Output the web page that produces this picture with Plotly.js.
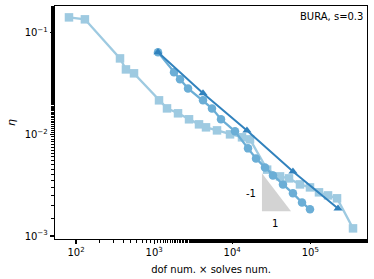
<!DOCTYPE html>
<html><head><meta charset="utf-8">
<script src="https://cdn.plot.ly/plotly-3.0.1.min.js"></script>
<style>html,body{margin:0;padding:0;background:#fff}#c{width:374px;height:279px}</style>
</head><body><div id="c"></div>
<script>
const sqX = [81.3,130,366,436,553,1156,1463,2024,2800,3758,4620,6390,9380,13350,16900,28000,40930,53360,73810,99100,129200,168600,219900,352300];
const sqY = [0.1413,0.1352,0.0558,0.0435,0.0398,0.0216,0.0180,0.0161,0.01406,0.01254,0.01172,0.01094,0.0100,0.00935,0.00893,0.00450,0.00386,0.00369,0.00322,0.00301,0.00269,0.00251,0.00235,0.00119];
const ciX = [1122,1799,2147,2719,4227,5508,7190,10860,15930,20180,26300,33270,44690,59980,78300,99100];
const ciY = [0.0640,0.0408,0.0348,0.0283,0.0216,0.0180,0.01406,0.01070,0.00728,0.00580,0.00473,0.00395,0.00322,0.00263,0.00214,0.00183];
const trX = [1122,4227,15450,59980,226500];
const trY = [0.0640,0.0253,0.0109,0.00432,0.00187];
const slopeX = [24040,24040,56600];
const slopeY = [0.00414,0.00175,0.00175];
const xTicks = [100,1000,10000,100000];
const xTickText = ['10<sup>2</sup>','10<sup>3</sup>','10<sup>4</sup>','10<sup>5</sup>'];
const yTicks = [0.001,0.01,0.1];
const yTickText = ['10<sup>−3</sup>','10<sup>−2</sup>','10<sup>−1</sup>'];

const traces = [
  {x:slopeX, y:slopeY, mode:'lines', fill:'toself', fillcolor:'#d3d3d3', line:{width:0,color:'#d3d3d3'}, hoverinfo:'skip'},
  {x:sqX, y:sqY, mode:'lines+markers', line:{color:'#9ecae1',width:2.3}, marker:{symbol:'square',size:8.5,color:'#9ecae1'}},
  {x:ciX, y:ciY, mode:'lines+markers', line:{color:'#6baed6',width:2.3}, marker:{symbol:'circle',size:8.5,color:'#6baed6'}},
  {x:trX, y:trY, mode:'lines+markers', line:{color:'#3182bd',width:2}, marker:{symbol:'triangle-up',size:8,color:'#3182bd'}}
];
const axBase = {type:'log', showgrid:false, zeroline:false, showline:true, linecolor:'black', linewidth:1.3, mirror:true,
  ticks:'outside', ticklen:4, tickwidth:1.2, tickcolor:'black',
  minor:{ticks:'outside', ticklen:2.5, tickwidth:1, tickcolor:'black', showgrid:false},
  tickfont:{family:'DejaVu Sans', size:10, color:'black'}};
const layout = {
  width:374, height:279, margin:{l:55,r:7,t:6,b:40}, showlegend:false,
  paper_bgcolor:'white', plot_bgcolor:'white',
  xaxis:Object.assign({}, axBase, {range:[1.731,5.726], tickvals:xTicks, ticktext:xTickText,
    title:{text:'dof num. × solves num.', font:{family:'DejaVu Sans', size:10, color:'black'}, standoff:8}}),
  yaxis:Object.assign({}, axBase, {range:[-3.029,-0.738], tickvals:yTicks, ticktext:yTickText,
    title:{text:'<i>η</i>', font:{family:'DejaVu Sans', size:11, color:'black'}, standoff:6}}),
  annotations:[
    {xref:'paper', yref:'paper', x:0.995, y:0.985, xanchor:'right', yanchor:'top', text:'BURA, s=0.3', showarrow:false, font:{family:'DejaVu Sans', size:10, color:'black'}},
    {x:Math.log10(17500), y:Math.log10(0.00265), text:'-1', showarrow:false, font:{family:'DejaVu Sans', size:10, color:'black'}},
    {x:Math.log10(35000), y:Math.log10(0.00133), text:'1', showarrow:false, font:{family:'DejaVu Sans', size:10, color:'black'}}
  ]
};
Plotly.newPlot('c', traces, layout, {displayModeBar:false, staticPlot:true});
</script></body></html>
